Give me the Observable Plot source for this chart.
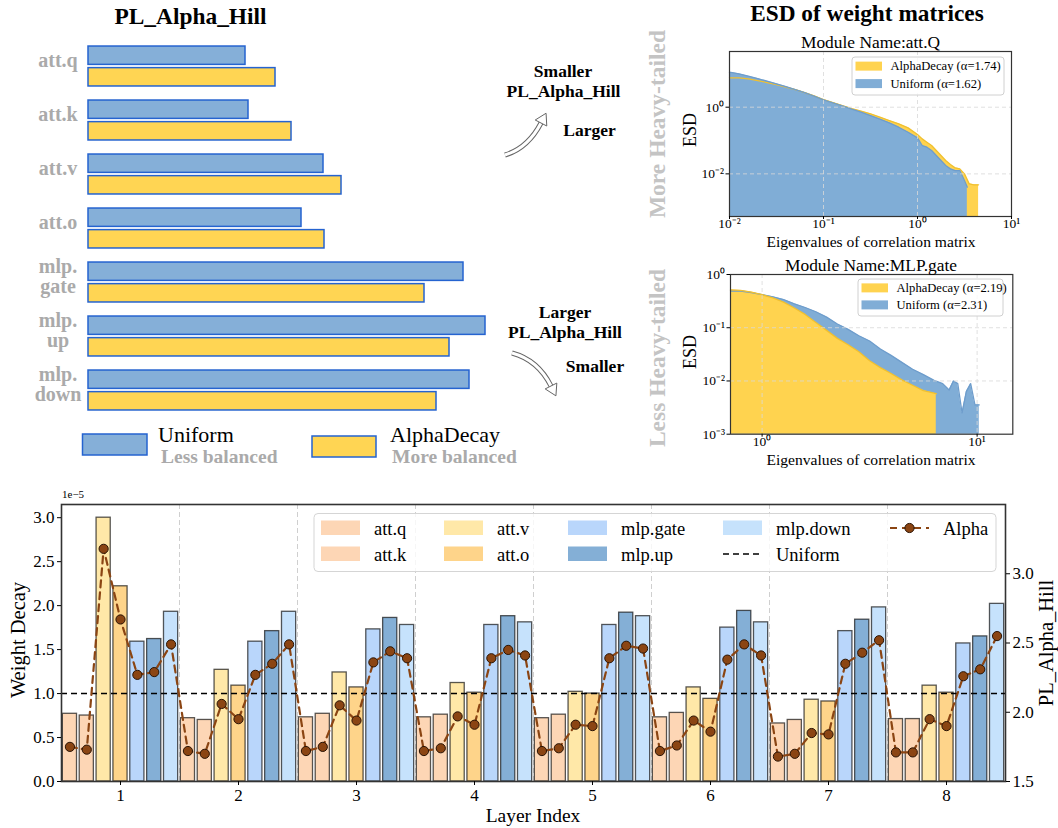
<!DOCTYPE html>
<html><head><meta charset="utf-8">
<script src="https://cdn.jsdelivr.net/npm/d3@7"></script>
<script src="https://cdn.jsdelivr.net/npm/@observablehq/plot@0.6"></script>
<style>
body{margin:0;background:#fff;}
#root{position:relative;width:1058px;height:828px;overflow:hidden;font-family:"Liberation Serif","Times New Roman",serif;}
#root svg{position:absolute;}
</style></head><body><div id="root"></div>
<script>
// ---------- data ----------
const modules = ["att.q","att.k","att.v","att.o","mlp.gate","mlp.up","mlp.down"];
const moduleLabels = ["att.q","att.k","att.v","att.o","mlp.\ngate","mlp.\nup","mlp.\ndown"];
// top-left: PL_Alpha_Hill (relative bar lengths)
const plaUniform = [1.57,1.60,2.35,2.13,3.75,3.97,3.81];
const plaDecay   = [1.87,2.03,2.53,2.36,3.36,3.61,3.48];

// bottom: weight decay (x1e-5) per module, layers 1..8
const layers = [1,2,3,4,5,6,7,8];
const wd_attq = [0.77,0.72,0.73,0.73,0.72,0.73,0.66,0.71];
const wd_attk = [0.75,0.70,0.77,0.76,0.76,0.78,0.70,0.71];
const wd_attv = [3.00,1.27,1.24,1.12,1.02,1.07,0.93,1.09];
const wd_atto = [2.22,1.09,1.07,1.01,1.00,0.94,0.91,1.01];
const wd_gate = [1.59,1.59,1.73,1.78,1.78,1.75,1.71,1.57];
const wd_up   = [1.62,1.71,1.86,1.88,1.92,1.94,1.84,1.65];
const wd_down = [1.93,1.93,1.78,1.81,1.88,1.81,1.98,2.02];
// PL_Alpha_Hill per module, layers 1..8
const al_attq = [1.75,1.72,1.72,1.72,1.72,1.72,1.68,1.71];
const al_attk = [1.73,1.70,1.75,1.74,1.74,1.76,1.70,1.71];
const al_attv = [3.18,2.06,2.05,1.97,1.91,1.94,1.85,1.95];
const al_atto = [2.67,1.95,1.94,1.91,1.90,1.86,1.84,1.90];
const al_gate = [2.27,2.27,2.36,2.39,2.39,2.38,2.35,2.26];
const al_up   = [2.29,2.35,2.44,2.45,2.48,2.49,2.43,2.31];
const al_down = [2.49,2.49,2.39,2.41,2.46,2.41,2.52,2.55];
const uniformWD = 1.0;
const leftTicks = [0,0.5,1,1.5,2,2.5,3];
const rightTicks = [1.5,2,2.5,3];

// ESD att.Q (log10 eigenvalue, log10 density)
const esdQ_uniLogEig = [-2.0,-1.9,-1.8,-1.7,-1.6,-1.5,-1.4,-1.3,-1.2,-1.1,-1.0,-0.9,-0.8,-0.7,-0.6,-0.5,-0.4,-0.3,-0.2,-0.1,0.0,0.05,0.1,0.15,0.2,0.25,0.3,0.35,0.4,0.45,0.5,0.53];
const esdQ_uniLogDen = [1.05,1.0,0.93,0.86,0.78,0.70,0.62,0.53,0.44,0.33,0.22,0.13,0.04,-0.06,-0.15,-0.25,-0.36,-0.47,-0.6,-0.75,-0.92,-1.15,-1.2,-1.3,-1.45,-1.6,-1.75,-1.85,-1.9,-1.9,-2.2,-2.4];
const esdQ_decLogEig = [-2.0,-1.9,-1.8,-1.7,-1.6,-1.5,-1.4,-1.3,-1.2,-1.1,-1.0,-0.9,-0.8,-0.7,-0.6,-0.5,-0.4,-0.3,-0.2,-0.1,0.0,0.05,0.1,0.15,0.2,0.25,0.3,0.35,0.4,0.45,0.5,0.55,0.6,0.65];
const esdQ_decLogDen = [0.88,0.88,0.85,0.8,0.74,0.68,0.6,0.53,0.44,0.34,0.23,0.14,0.05,-0.04,-0.12,-0.2,-0.3,-0.4,-0.5,-0.62,-0.82,-0.95,-1.05,-1.15,-1.3,-1.45,-1.6,-1.72,-1.82,-1.85,-2.0,-2.3,-2.33,-2.33];
// ESD MLP.gate
const esdG_uniLogEig = [-0.147,-0.1,-0.05,0,0.05,0.1,0.15,0.2,0.25,0.3,0.35,0.4,0.45,0.5,0.55,0.6,0.65,0.7,0.75,0.8,0.84,0.87,0.89,0.91,0.93,0.95,0.97,0.99,1.01];
const esdG_uniLogDen = [-0.31,-0.31,-0.34,-0.38,-0.42,-0.47,-0.55,-0.62,-0.70,-0.80,-0.93,-1.03,-1.15,-1.25,-1.40,-1.52,-1.65,-1.78,-1.88,-1.99,-2.05,-2.17,-2.0,-2.05,-2.6,-2.2,-2.05,-2.45,-2.45];
const esdG_decLogEig = [-0.147,-0.1,-0.05,0,0.05,0.1,0.15,0.2,0.25,0.3,0.35,0.4,0.45,0.5,0.55,0.6,0.65,0.7,0.75,0.81];
const esdG_decLogDen = [-0.29,-0.30,-0.33,-0.38,-0.44,-0.52,-0.63,-0.75,-0.9,-1.05,-1.2,-1.32,-1.45,-1.62,-1.75,-1.86,-1.98,-2.08,-2.18,-2.24];

// ---------- styles ----------
const modColors = ["#FDD6B5","#FDD6B5","#FFE8A8","#FED48A","#B9D6FB","#84AFD6","#C6E2FC"];
const cUniform = "#85AFD8", cDecay = "#FFD553", cEdge = "#2563D0";
const esdYellow = "#FFD34F", esdBlue = "#80ADD6";
const FONT = "Liberation Serif";
const root = document.getElementById("root");
function place(svg, left, top){ svg.style.left = left+"px"; svg.style.top = top+"px"; root.appendChild(svg); }

// ---------- top-left horizontal bars ----------
const hbars = [];
modules.forEach((m,i)=>{ hbars.push({i, s:"Uniform", v:plaUniform[i]}); hbars.push({i, s:"AlphaDecay", v:plaDecay[i]}); });
const topLeft = Plot.plot({
  width:500, height:420, marginLeft:88, marginRight:12, marginTop:39, marginBottom:3,
  style:{fontFamily:FONT, background:"none", color:"#000"},
  x:{domain:[0,4], axis:null, label:null}, y:{domain:[6.5,-0.5], axis:null, label:null}, color:{type:"identity"},
  marks:[
    Plot.rect(hbars, {x1:()=>0, x2:"v",
      y1:d=>d.i+(d.s==="Uniform"?-0.37:0.03), y2:d=>d.i+(d.s==="Uniform"?-0.03:0.37),
      fill:d=>d.s==="Uniform"?cUniform:cDecay, stroke:cEdge, strokeWidth:1.5}),
    Plot.text(moduleLabels, {x:()=>0, y:(d,i)=>i, text:d=>d, dx:-30.5, dy:-6, textAnchor:"middle",
      lineAnchor:"middle", lineHeight:1, fontSize:20, fontWeight:"bold", fill:"#aaaaaa"})
  ]
});
place(topLeft, 0, 0);

// ---------- ESD plots ----------
const sup = n => String(n).split("").map(c=>({"-":"⁻","0":"⁰","1":"¹","2":"²","3":"³"})[c]).join("");
const logFmt = v => "10" + sup(Math.round(Math.log10(v)));
function esdPlot(o){
  const uni = o.uE.map((e,i)=>({e:10**e, d:10**o.uD[i]}));
  const dec = o.dE.map((e,i)=>({e:10**e, d:10**o.dD[i]}));
  const yMin = o.yDomain[0];
  const areaU = Plot.areaY(uni, {x:"e", y1:()=>yMin, y2:"d", fill:esdBlue});
  const areaD = Plot.areaY(dec, {x:"e", y1:()=>yMin, y2:"d", fill:esdYellow});
  const lineU = Plot.line(uni, {x:"e", y:"d", stroke:"#6E9DCC", strokeWidth:1.3});
  const lineD = Plot.line(dec, {x:"e", y:"d", stroke:"#F0C030", strokeWidth:1.3});
  return Plot.plot({
    width:o.width, height:o.height, marginLeft:o.ml, marginRight:o.mr, marginTop:o.mt, marginBottom:o.mb,
    style:{fontFamily:FONT, fontSize:"13.5px", background:"none", color:"#000"},
    x:{type:"log", domain:o.xDomain, label:null}, y:{type:"log", domain:o.yDomain, label:null},
    marks:[
      ...(o.decayOnTop ? [areaU, areaD, lineU, lineD] : [areaD, areaU, lineD, lineU]),
      Plot.ruleX(o.xGrid, {stroke:"#d8d8d8", strokeOpacity:0.8, strokeDasharray:"4,3"}),
      Plot.ruleY(o.yGrid, {stroke:"#d8d8d8", strokeOpacity:0.8, strokeDasharray:"4,3"}),
      Plot.frame({stroke:"#333", strokeWidth:1.2}),
      Plot.axisX(o.xTicks, {label:null, tickSize:3, tickPadding:-1, tickFormat:logFmt}),
      Plot.axisY(o.yTicks, {label:null, tickSize:3.5, tickPadding:2, tickFormat:logFmt})
    ]
  });
}
place(esdPlot({width:418, height:250, ml:89, mr:47, mt:51, mb:34,
  xDomain:[0.01,10], yDomain:[10**-3.279, 10**1.671],
  uE:esdQ_uniLogEig, uD:esdQ_uniLogDen, dE:esdQ_decLogEig, dD:esdQ_decLogDen, decayOnTop:false,
  xGrid:[0.1,1], yGrid:[1,0.01], xTicks:[0.01,0.1,1,10], yTicks:[0.01,1]}), 640, 0);
place(esdPlot({width:418, height:230, ml:90, mr:45.7, mt:24, mb:46.3,
  xDomain:[10**-0.147, 10**1.166], yDomain:[0.001,1],
  uE:esdG_uniLogEig, uD:esdG_uniLogDen, dE:esdG_decLogEig, dD:esdG_decLogDen, decayOnTop:true,
  xGrid:[1,10], yGrid:[0.1,0.01], xTicks:[1,10], yTicks:[0.001,0.01,0.1,1]}), 640, 250);

// ---------- bottom: weight decay + alpha ----------
const wdByModule = [wd_attq,wd_attk,wd_attv,wd_atto,wd_gate,wd_up,wd_down];
const alByModule = [al_attq,al_attk,al_attv,al_atto,al_gate,al_up,al_down];
const rows = [];
layers.forEach((L,li)=>modules.forEach((m,mi)=>rows.push({L, mi, pos:L+(mi-3)/7, wd:wdByModule[mi][li], al:alByModule[mi][li]})));
const leftMax = 3.15, rMin = 1.5, rMax = 3.5, barW = 0.12;
const toLeft = a => (a-rMin)/(rMax-rMin)*leftMax;
const fromLeft = v => v/leftMax*(rMax-rMin)+rMin;
const bottom = Plot.plot({
  width:1058, height:348, marginLeft:61, marginRight:53, marginTop:24, marginBottom:47,
  style:{fontFamily:FONT, fontSize:"17px", background:"none", color:"#000"},
  x:{domain:[0.5,8.5], label:null}, y:{domain:[0,leftMax], label:null}, color:{type:"identity"},
  marks:[
    Plot.ruleX(layers.slice(1).map(l=>l-0.5), {stroke:"#cfcfcf", strokeDasharray:"5,3"}),
    Plot.rect(rows, {x1:d=>d.pos-barW/2, x2:d=>d.pos+barW/2, y1:()=>0, y2:"wd",
      fill:d=>modColors[d.mi], stroke:"#111", strokeOpacity:0.7, strokeWidth:1.3}),
    Plot.ruleY([uniformWD], {stroke:"#000", strokeDasharray:"6,4", strokeWidth:1.6}),
    Plot.line(rows, {x:"pos", y:d=>toLeft(d.al), stroke:"#8B4513", strokeWidth:2.2, strokeDasharray:"7,5"}),
    Plot.dot(rows, {x:"pos", y:d=>toLeft(d.al), r:4.6, fill:"#8B4513", stroke:"#2a1405", strokeWidth:1}),
    Plot.frame({stroke:"#333", strokeWidth:1.6}),
    Plot.axisX(layers, {label:null, tickSize:4, tickPadding:3, tickFormat:d=>String(d)}),
    Plot.axisY(leftTicks, {label:null, tickSize:4, tickPadding:3, tickFormat:d=>d.toFixed(1)}),
    Plot.axisY(rightTicks.map(toLeft), {label:null, anchor:"right", tickSize:4, tickPadding:3, tickFormat:v=>fromLeft(v).toFixed(1)})
  ]
});
place(bottom, 0, 480);

// ---------- annotations overlay ----------
const ov = d3.create("svg").attr("width",1058).attr("height",828)
  .style("left","0px").style("top","0px").style("pointer-events","none")
  .style("font-family", FONT);
function t(x, y, s, o={}){
  const el = ov.append("text").attr("x",x).attr("y",y).text(s)
    .attr("font-size", o.size||16).attr("font-weight", o.weight||"normal")
    .attr("text-anchor", o.anchor||"start").attr("fill", o.fill||"#000");
  if (o.rotate){ el.attr("x",0).attr("y",0).attr("dy","0.35em").attr("transform",`translate(${x},${y}) rotate(${o.rotate})`); }
  return el;
}
// top-left
t(190.5, 23.5, "PL_Alpha_Hill", {size:23.4, weight:"bold", anchor:"middle"});
ov.append("rect").attr("x",82.5).attr("y",434).attr("width",64.5).attr("height",21).attr("fill",cUniform).attr("stroke",cEdge).attr("stroke-width",1.5);
ov.append("rect").attr("x",312).attr("y",436).attr("width",64).attr("height",21).attr("fill",cDecay).attr("stroke",cEdge).attr("stroke-width",1.5);
t(158, 442, "Uniform", {size:22});
t(161, 462.5, "Less balanced", {size:19.5, weight:"bold", fill:"#aaaaaa"});
t(390, 442, "AlphaDecay", {size:22});
t(392, 462.5, "More balanced", {size:19.5, weight:"bold", fill:"#aaaaaa"});
// middle arrows
t(563, 77, "Smaller", {size:17.5, weight:"bold", anchor:"middle"});
t(563.5, 96.5, "PL_Alpha_Hill", {size:17.5, weight:"bold", anchor:"middle"});
t(589.5, 136, "Larger", {size:17.5, weight:"bold", anchor:"middle"});
t(565, 318, "Larger", {size:17.5, weight:"bold", anchor:"middle"});
t(565, 338, "PL_Alpha_Hill", {size:17.5, weight:"bold", anchor:"middle"});
t(595, 372, "Smaller", {size:17.5, weight:"bold", anchor:"middle"});
function fancyArrow(x0,y0,cx,cy,x1,y1){
  const d = `M${x0},${y0} Q${cx},${cy} ${x1},${y1}`;
  ov.append("path").attr("d",d).attr("fill","none").attr("stroke","#666").attr("stroke-width",5);
  ov.append("path").attr("d",d).attr("fill","none").attr("stroke","#fff").attr("stroke-width",3);
  const dx=x1-cx, dy=y1-cy, L=Math.hypot(dx,dy), ux=dx/L, uy=dy/L, px=-uy, py=ux, hl=11, hw=6.5;
  ov.append("path").attr("d",`M${x1+px*hw},${y1+py*hw} L${x1+ux*hl},${y1+uy*hl} L${x1-px*hw},${y1-py*hw} Z`)
    .attr("fill","#fff").attr("stroke","#666").attr("stroke-width",1);
}
fancyArrow(505,155, 528,148, 541,123);
fancyArrow(512,353, 538,360, 551,386);
// rotated side labels
t(657, 124, "More Heavy-tailed", {size:23.5, weight:"bold", anchor:"middle", fill:"#c4c4c4", rotate:-90});
t(657, 358, "Less Heavy-tailed", {size:23.5, weight:"bold", anchor:"middle", fill:"#c4c4c4", rotate:-90});
// ESD titles / labels
t(867, 20.5, "ESD of weight matrices", {size:23.3, weight:"bold", anchor:"middle"});
t(870.5, 48, "Module Name:att.Q", {size:17.4, anchor:"middle"});
t(871, 270.5, "Module Name:MLP.gate", {size:17.4, anchor:"middle"});
t(690, 130, "ESD", {size:18, anchor:"middle", rotate:-90});
t(690, 352, "ESD", {size:18, anchor:"middle", rotate:-90});
t(871, 246.5, "Eigenvalues of correlation matrix", {size:15.6, anchor:"middle"});
t(871, 465, "Eigenvalues of correlation matrix", {size:15.6, anchor:"middle"});
function esdLegend(x, y, w, h, a1, a2){
  ov.append("rect").attr("x",x).attr("y",y).attr("width",w).attr("height",h).attr("rx",3)
    .attr("fill","#fff").attr("fill-opacity",0.8).attr("stroke","#d0d0d0");
  const r1 = y + h*0.24, r2 = y + h*0.7;
  ov.append("rect").attr("x",x+3.5).attr("y",r1-4.5).attr("width",26.5).attr("height",9).attr("fill",esdYellow);
  ov.append("rect").attr("x",x+3.5).attr("y",r2-4.5).attr("width",26.5).attr("height",9).attr("fill",esdBlue);
  t(x+38.5, r1+4.3, `AlphaDecay (α=${a1})`, {size:12.6});
  t(x+38.5, r2+4.3, `Uniform (α=${a2})`, {size:12.6});
}
esdLegend(852, 57, 152, 38, "1.74", "1.62");
esdLegend(858, 279, 145, 37, "2.19", "2.31");
// bottom chart labels
t(18, 640, "Weight Decay", {size:20.5, anchor:"middle", rotate:-90});
t(1046, 643, "PL_Alpha_Hill", {size:20.5, anchor:"middle", rotate:-90});
t(533, 822, "Layer Index", {size:19.5, anchor:"middle"});
t(62, 498, "1e−5", {size:11});
// bottom legend
ov.append("rect").attr("x",314).attr("y",513.5).attr("width",682).attr("height",58).attr("rx",4)
  .attr("fill","#fff").attr("fill-opacity",0.8).attr("stroke","#d5d5d5");
const legItems = [
  {col:0,row:0,label:"att.q",type:"patch",c:modColors[0]},
  {col:0,row:1,label:"att.k",type:"patch",c:modColors[1]},
  {col:1,row:0,label:"att.v",type:"patch",c:modColors[2]},
  {col:1,row:1,label:"att.o",type:"patch",c:modColors[3]},
  {col:2,row:0,label:"mlp.gate",type:"patch",c:modColors[4]},
  {col:2,row:1,label:"mlp.up",type:"patch",c:modColors[5]},
  {col:3,row:0,label:"mlp.down",type:"patch",c:modColors[6]},
  {col:3,row:1,label:"Uniform",type:"dash"},
  {col:4,row:0,label:"Alpha",type:"alpha"}
];
const colX = [321,444,568,723,890], rowY = [528,554];
legItems.forEach(it=>{
  const x = colX[it.col], y = rowY[it.row];
  if (it.type==="patch") ov.append("rect").attr("x",x).attr("y",y-7.5).attr("width",39).attr("height",14.5).attr("fill",it.c);
  else if (it.type==="dash") ov.append("line").attr("x1",x).attr("x2",x+39).attr("y1",y).attr("y2",y).attr("stroke","#000").attr("stroke-width",1.6).attr("stroke-dasharray","6,4");
  else {
    ov.append("line").attr("x1",x).attr("x2",x+39).attr("y1",y).attr("y2",y).attr("stroke","#8B4513").attr("stroke-width",2.2).attr("stroke-dasharray","7,5");
    ov.append("circle").attr("cx",x+19.5).attr("cy",y).attr("r",4.6).attr("fill","#8B4513").attr("stroke","#2a1405");
  }
  t(x+53, y+6.5, it.label, {size:18.5});
});
root.appendChild(ov.node());
</script></body></html>
